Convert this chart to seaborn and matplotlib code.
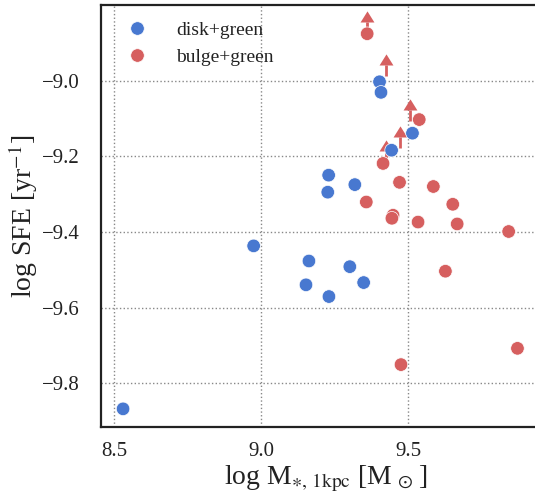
import numpy as np
import pandas as pd
import matplotlib
matplotlib.use("Agg")
import matplotlib.pyplot as plt
import seaborn as sns

# ---- data ----
disk_mass = [9.403, 9.408, 9.515, 9.444, 9.230, 9.319, 9.227, 8.975, 9.163,
             9.302, 9.349, 9.153, 9.231, 8.531]
disk_sfe = [-9.003, -9.031, -9.139, -9.184, -9.250, -9.275, -9.295, -9.437,
            -9.477, -9.492, -9.534, -9.540, -9.571, -9.868]

bulge_mass = [9.361, 9.538, 9.415, 9.471, 9.586, 9.358, 9.652, 9.449, 9.445,
              9.534, 9.667, 9.842, 9.627, 9.872, 9.476]
bulge_sfe = [-8.876, -9.103, -9.219, -9.269, -9.280, -9.321, -9.327, -9.356,
             -9.364, -9.374, -9.379, -9.399, -9.504, -9.708, -9.751]

# lower-limit arrows (bulge+green): base of the arrow
limit_mass = [9.359, 9.425, 9.508, 9.473, 9.425]
limit_sfe = [-8.873, -8.987, -9.106, -9.177, -9.214]

categories = ["disk+green", "bulge+green"]
colors = ["#4878D0", "#D65F5F"]

x_ticks = [8.5, 9.0, 9.5]
y_ticks = [-9.8, -9.6, -9.4, -9.2, -9.0]

df = pd.DataFrame({
    "mass": disk_mass + bulge_mass,
    "sfe": disk_sfe + bulge_sfe,
    "type": [categories[0]] * len(disk_mass) + [categories[1]] * len(bulge_mass),
})

sns.set_theme(style="white")
plt.rcParams["font.family"] = ["Liberation Serif", "DejaVu Serif"]
plt.rcParams["mathtext.fontset"] = "stix"
plt.rcParams["axes.unicode_minus"] = True

fig = plt.figure(figsize=(5.35, 4.95), dpi=100)
W, H = 535, 495
left, right, top, bottom = 101, 536, 5, 427
ax = fig.add_axes([left / W, 1 - bottom / H, (right - left) / W, (bottom - top) / H])

# arrows (lower limits)
arrow_len = 0.028
lx = np.array(limit_mass)
ly = np.array(limit_sfe)
ax.vlines(lx, ly, ly + arrow_len, color=colors[1], lw=2, zorder=2)
tri = [(-1, 0), (1, 0), (0, 1.6), (-1, 0)]
ax.plot(lx, ly + arrow_len, ls="none", marker=tri, ms=16, color=colors[1],
        mec=colors[1], mew=0, zorder=2)

sns.scatterplot(data=df, x="mass", y="sfe", hue="type", hue_order=categories,
                palette=colors, s=95, edgecolor="white", linewidth=0.5,
                ax=ax, zorder=3)

ax.set_xlim(8.456, 9.935)
ax.set_ylim(-9.916, -8.80)
ax.set_xticks(x_ticks)
ax.set_yticks(y_ticks)
ax.set_xticklabels([f"{v:.1f}" for v in x_ticks])
ax.set_yticklabels([f"{v:.1f}".replace("-", "\u2212") for v in y_ticks])
ax.tick_params(axis="both", labelsize=15, length=0, colors="#222222")
ax.tick_params(axis="x", pad=11)
ax.tick_params(axis="y", pad=15)

ax.grid(True, ls=":", color="#888888", lw=1.0)
ax.set_axisbelow(True)
for s in ["left", "top", "bottom"]:
    ax.spines[s].set_color("#222222")
    ax.spines[s].set_linewidth(1.6)
ax.spines["right"].set_visible(False)

ax.set_xlabel(r"log M$_{\ast,\,\mathrm{1kpc}}$ [M$_{\,\odot\,}$]", fontsize=20,
              color="#222222")
ax.xaxis.set_label_coords((326 - left) / (right - left), -(464 - bottom) / (bottom - top))
ax.set_ylabel(r"log SFE [yr$^{-1}$]", fontsize=20, color="#222222")
ax.yaxis.set_label_coords(-(101 - 40) / (right - left), 0.5)

sns.move_legend(ax, "upper left", frameon=False, title=None, fontsize=14,
                handletextpad=1.0, labelspacing=0.45, borderaxespad=0.45,
                markerscale=1.0)
for t in ax.get_legend().get_texts():
    t.set_color("#222222")

fig.savefig("out.png", dpi=100)
